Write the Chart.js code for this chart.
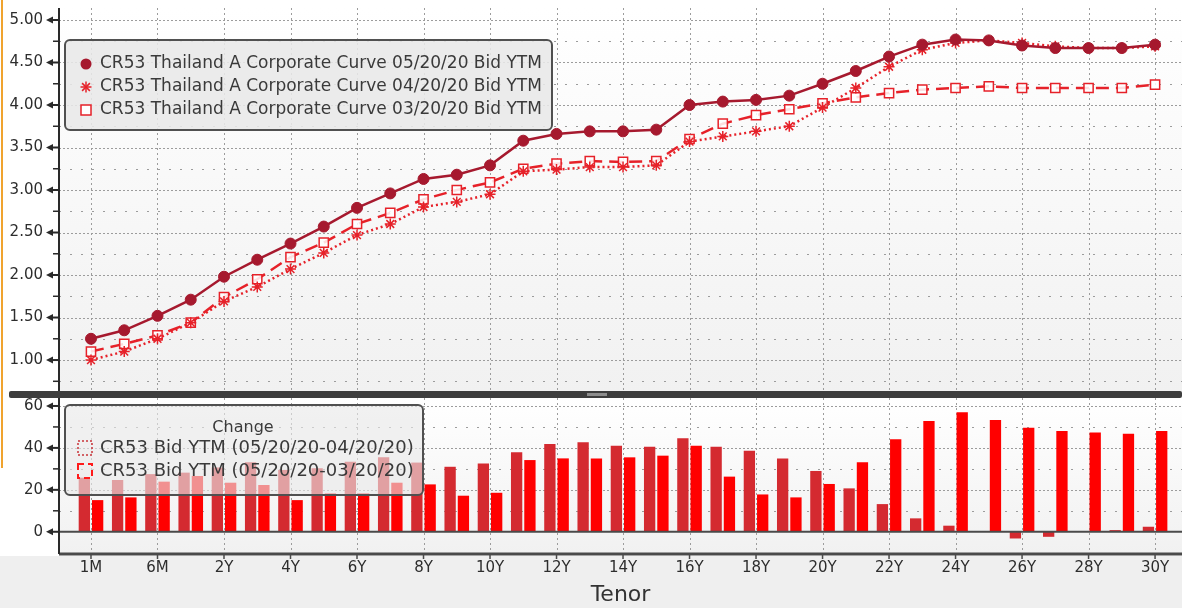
<!DOCTYPE html>
<html>
<head>
<meta charset="utf-8">
<script src="https://cdn.jsdelivr.net/npm/chart.js"></script>
<style>
html, body { margin: 0; padding: 0; background: #fff; }
#wrap { position: relative; width: 1182px; height: 608px; overflow: hidden; background: #fff; }
canvas { position: absolute; left: 0; }
#top { top: 0; }
#bot { top: 392px; background: linear-gradient(to bottom, #fff 0, #fff 164px, #efefef 164px); }
#band { position: absolute; left: 9px; top: 391px; width: 1173px; height: 7px; background: #3d3d3d; border-radius: 2px; }
#handle { position: absolute; left: 578px; top: 2px; width: 20px; height: 3px; background: #8d8d8d; }
#edge { position: absolute; left: 1px; top: 0; width: 2px; height: 468px; background: #f0a32e; }
</style>
</head>
<body>
<div id="wrap">
  <canvas id="top" width="1182" height="392"></canvas>
  <canvas id="bot" width="1182" height="216"></canvas>
  <div id="band"><div id="handle"></div></div>
  <div id="edge"></div>
</div>
<script>
// tenor buckets
var tenors = ['1M','3M','6M','1Y','2Y','3Y','4Y','5Y','6Y','7Y','8Y','9Y','10Y','11Y','12Y','13Y','14Y','15Y',
              '16Y','17Y','18Y','19Y','20Y','21Y','22Y','23Y','24Y','25Y','26Y','27Y','28Y','29Y','30Y'];

// bid YTM curves (%)
var may20 = [1.25,1.35,1.52,1.71,1.98,2.18,2.37,2.57,2.79,2.96,3.13,3.18,3.29,3.58,3.66,3.69,3.69,3.71,
             4.00,4.04,4.06,4.11,4.25,4.40,4.57,4.71,4.77,4.76,4.70,4.67,4.67,4.67,4.71];
var apr20 = [1.00,1.10,1.25,1.44,1.69,1.86,2.07,2.26,2.47,2.60,2.80,2.86,2.95,3.22,3.24,3.27,3.27,3.29,
             3.57,3.63,3.69,3.75,3.97,4.20,4.45,4.65,4.73,4.76,4.73,4.69,4.67,4.67,4.69];
var mar20 = [1.10,1.19,1.29,1.44,1.74,1.95,2.21,2.38,2.60,2.73,2.89,3.00,3.09,3.25,3.31,3.34,3.33,3.34,
             3.60,3.78,3.88,3.95,4.02,4.09,4.14,4.18,4.20,4.22,4.20,4.20,4.20,4.20,4.24];

// change in bp
var chgApr = [25.8,24.7,27.5,28.2,30.6,33.1,29.5,30.3,33.4,35.5,33,31,32.6,37.9,41.9,42.7,41,40.6,
              44.6,40.6,38.7,35,29,20.7,13.2,6.4,2.9,0,-3.2,-2.4,0,0.8,2.4];
var chgMar = [15.1,16.4,23.9,26.6,23.4,22.3,15.1,18.3,18.3,23.4,22.6,17.2,18.6,34.2,35,35,35.5,36.3,
              41,26.3,17.8,16.4,22.8,33.1,44.1,52.8,57,53.3,49.6,48.1,47.4,46.8,48.1];

var topTicks = [1.00,1.50,2.00,2.50,3.00,3.50,4.00,4.50,5.00];
var topMinor = [0.75,1.25,1.75,2.25,2.75,3.25,3.75,4.25,4.75];
var botTicks = [0,20,40,60];
var botMinor = [10,30,50];

var darkRed = '#a6192e', red = '#e62129';
Chart.defaults.font.family = '"DejaVu Sans", sans-serif';

function pts(arr) { return arr.map(function (v, i) { return { x: i, y: v }; }); }
function evenIdx() { var r = []; for (var i = 0; i < tenors.length; i += 2) r.push(i); return r; }

var cfg = {
  top: {
    major: topTicks, minor: topMinor, zero: false,
    legend: { x: 65, y: 40, w: 487, h: 90, rows: [64, 87, 110], markX: 86, textX: 100, font: 17,
              fill: 'rgba(232,232,232,0.88)', marks: ['dot', 'star', 'box'] }
  },
  bot: {
    major: [20, 40, 60], minor: botMinor, zero: true,
    legend: { x: 65, y: 13, w: 358, h: 90, rows: [56, 79], markX: 85, textX: 100, font: 18,
              title: 'Change', titleX: 243, titleY: 36, fill: 'rgba(232,232,232,0.62)', marks: ['dotbox', 'dashbox'] }
  }
};

function seg(ctx, x1, y1, x2, y2, dash) {
  ctx.setLineDash(dash);
  ctx.beginPath(); ctx.moveTo(x1, y1); ctx.lineTo(x2, y2); ctx.stroke();
}

function marker(ctx, kind, x, y) {
  ctx.save();
  if (kind === 'dot') {
    ctx.fillStyle = darkRed; ctx.beginPath(); ctx.arc(x, y, 5.5, 0, Math.PI * 2); ctx.fill();
  } else if (kind === 'star') {
    ctx.strokeStyle = red; ctx.lineWidth = 1.5;
    for (var k = 0; k < 4; k++) {
      var a = k * Math.PI / 4;
      seg(ctx, x - 5.5 * Math.cos(a), y - 5.5 * Math.sin(a), x + 5.5 * Math.cos(a), y + 5.5 * Math.sin(a), []);
    }
  } else if (kind === 'box') {
    ctx.fillStyle = '#fff'; ctx.strokeStyle = red; ctx.lineWidth = 1.5;
    ctx.fillRect(x - 5, y - 5, 10, 10); ctx.strokeRect(x - 5, y - 5, 10, 10);
  } else if (kind === 'dotbox') {
    ctx.strokeStyle = '#c9343a'; ctx.lineWidth = 1.5; ctx.setLineDash([2, 2]);
    ctx.strokeRect(x - 7, y - 7, 14, 14);
  } else {
    ctx.strokeStyle = '#ff1a1a'; ctx.lineWidth = 2; ctx.setLineDash([6, 4]);
    ctx.strokeRect(x - 7, y - 7, 14, 14);
  }
  ctx.restore();
}

var decor = {
  id: 'decor',
  beforeDatasetsDraw: function (chart) {
    var o = cfg[chart.canvas.id], ctx = chart.ctx, a = chart.chartArea;
    var x = chart.scales.x, y = chart.scales.y;
    ctx.save();
    var g = ctx.createLinearGradient(0, a.top, 0, a.bottom);
    g.addColorStop(0, '#ffffff'); g.addColorStop(1, '#f1f1f1');
    ctx.fillStyle = g; ctx.fillRect(a.left, a.top, a.right - a.left, a.bottom - a.top);
    ctx.strokeStyle = '#9c9c9c'; ctx.lineWidth = 1;
    o.major.forEach(function (v) { var p = Math.round(y.getPixelForValue(v)) + 0.5; seg(ctx, a.left, p, a.right, p, [2, 2]); });
    o.minor.forEach(function (v) { var p = Math.round(y.getPixelForValue(v)) + 0.5; seg(ctx, a.left, p, a.right, p, [2, 9]); });
    evenIdx().forEach(function (i) { var p = Math.round(x.getPixelForValue(i)) + 0.5; seg(ctx, p, a.top, p, a.bottom, [2, 3]); });
    ctx.restore();
  },
  afterDatasetsDraw: function (chart) {
    var o = cfg[chart.canvas.id], ctx = chart.ctx, a = chart.chartArea;
    var x = chart.scales.x, y = chart.scales.y;
    ctx.save();
    ctx.strokeStyle = '#4a4a4a';
    if (o.zero) {
      ctx.lineWidth = 2;
      var z = y.getPixelForValue(0);
      seg(ctx, a.left, z, a.right, z, []);
      ctx.lineWidth = 3;
      seg(ctx, a.left, a.bottom, a.right, a.bottom, []);
      ctx.lineWidth = 1.5;
      evenIdx().forEach(function (i) { var p = x.getPixelForValue(i); seg(ctx, p, a.bottom, p, a.bottom + 5, []); });
    }
    ctx.strokeStyle = '#2a2a2a'; ctx.fillStyle = '#2a2a2a'; ctx.lineWidth = 2;
    seg(ctx, a.left, a.top, a.left, a.bottom, []);
    (o.zero ? botTicks : topTicks).forEach(function (v) {
      var p = y.getPixelForValue(v);
      ctx.beginPath(); ctx.moveTo(a.left - 13, p); ctx.lineTo(a.left - 6, p - 3.5); ctx.lineTo(a.left - 6, p + 3.5); ctx.closePath(); ctx.fill();
      seg(ctx, a.left - 6, p, a.left, p, []);
    });
    ctx.lineWidth = 1.5;
    o.minor.forEach(function (v) { var p = y.getPixelForValue(v); seg(ctx, a.left - 6, p, a.left, p, []); });
    ctx.restore();
  },
  afterDraw: function (chart) {
    var L = cfg[chart.canvas.id].legend, ctx = chart.ctx;
    ctx.save();
    ctx.beginPath();
    ctx.roundRect(L.x, L.y, L.w, L.h, 5);
    ctx.fillStyle = L.fill; ctx.fill();
    ctx.lineWidth = 2; ctx.strokeStyle = '#505050'; ctx.stroke();
    ctx.fillStyle = '#3a3a3a'; ctx.textBaseline = 'middle';
    if (L.title) {
      ctx.font = '16px "DejaVu Sans"'; ctx.textAlign = 'center';
      ctx.fillText(L.title, L.titleX, L.titleY);
    }
    ctx.font = L.font + 'px "DejaVu Sans"'; ctx.textAlign = 'left';
    chart.data.datasets.forEach(function (ds, i) {
      marker(ctx, L.marks[i], L.markX, L.rows[i]);
      ctx.fillStyle = '#3a3a3a';
      ctx.fillText(ds.label, L.textX, L.rows[i]);
    });
    ctx.restore();
  }
};

var xMin = -0.962, xMax = 32.81;
var tickFont = { size: 15 };

function fixY(width) {
  return function (s) { s.width = width; s.paddingTop = 0; s.paddingBottom = 0; };
}

new Chart(document.getElementById('top'), {
  type: 'line',
  data: {
    datasets: [
      { label: 'CR53 Thailand A Corporate Curve 05/20/20 Bid YTM', data: pts(may20),
        borderColor: darkRed, backgroundColor: darkRed, borderWidth: 2.5,
        pointStyle: 'circle', pointRadius: 5.5, pointBorderWidth: 1 },
      { label: 'CR53 Thailand A Corporate Curve 04/20/20 Bid YTM', data: pts(apr20),
        borderColor: red, backgroundColor: red, borderWidth: 2.5, borderDash: [2, 3],
        pointStyle: 'star', pointRadius: 5.5, pointBorderWidth: 1.5 },
      { label: 'CR53 Thailand A Corporate Curve 03/20/20 Bid YTM', data: pts(mar20),
        borderColor: red, backgroundColor: 'rgba(255,255,255,0.85)', borderWidth: 2.5, borderDash: [13, 7],
        pointStyle: 'rect', pointRadius: 6.5, pointBorderWidth: 1.5 }
    ]
  },
  options: {
    responsive: false, animation: false, devicePixelRatio: 1,
    layout: { autoPadding: false, padding: { top: 8, left: 0, right: 0, bottom: 0 } },
    plugins: { legend: { display: false }, tooltip: { enabled: false } },
    scales: {
      x: { type: 'linear', min: xMin, max: xMax, offset: false,
           ticks: { display: false }, grid: { display: false, drawTicks: false }, border: { display: false },
           afterFit: function (s) { s.height = 0; s.paddingLeft = 0; s.paddingRight = 0; } },
      y: { min: 0.624, max: 5.141,
           afterBuildTicks: function (s) { s.ticks = topTicks.map(function (v) { return { value: v }; }); },
           ticks: { callback: function (v) { return v.toFixed(2); }, padding: 16, font: tickFont, color: '#2d2d2d' },
           grid: { display: false, drawTicks: false }, border: { display: false },
           afterFit: fixY(59) }
    }
  },
  plugins: [decor]
});

new Chart(document.getElementById('bot'), {
  type: 'bar',
  data: {
    datasets: [
      { label: 'CR53 Bid YTM (05/20/20-04/20/20)', data: pts(chgApr), backgroundColor: '#d42a30' },
      { label: 'CR53 Bid YTM (05/20/20-03/20/20)', data: pts(chgMar), backgroundColor: '#ff0000' }
    ]
  },
  options: {
    responsive: false, animation: false, devicePixelRatio: 1,
    layout: { autoPadding: false, padding: { top: 6, left: 0, right: 0, bottom: 0 } },
    datasets: { bar: { categoryPercentage: 0.8, barPercentage: 0.85 } },
    plugins: { legend: { display: false }, tooltip: { enabled: false } },
    scales: {
      x: { type: 'linear', min: xMin, max: xMax, offset: false,
           afterBuildTicks: function (s) { s.ticks = evenIdx().map(function (v) { return { value: v }; }); },
           ticks: { callback: function (v) { return tenors[v]; }, padding: 5, font: tickFont, color: '#2d2d2d',
                    maxRotation: 0, autoSkip: false },
           title: { display: true, text: 'Tenor', font: { size: 22 }, color: '#333', padding: { top: 0, bottom: 0 } },
           grid: { display: false, drawTicks: false }, border: { display: false },
           afterFit: function (s) { s.height = 54; s.paddingLeft = 0; s.paddingRight = 0; } },
      y: { min: -10.6, max: 63.8,
           afterBuildTicks: function (s) { s.ticks = botTicks.map(function (v) { return { value: v }; }); },
           ticks: { padding: 16, font: tickFont, color: '#2d2d2d' },
           grid: { display: false, drawTicks: false }, border: { display: false },
           afterFit: fixY(59) }
    }
  },
  plugins: [decor]
});
</script>
</body>
</html>
